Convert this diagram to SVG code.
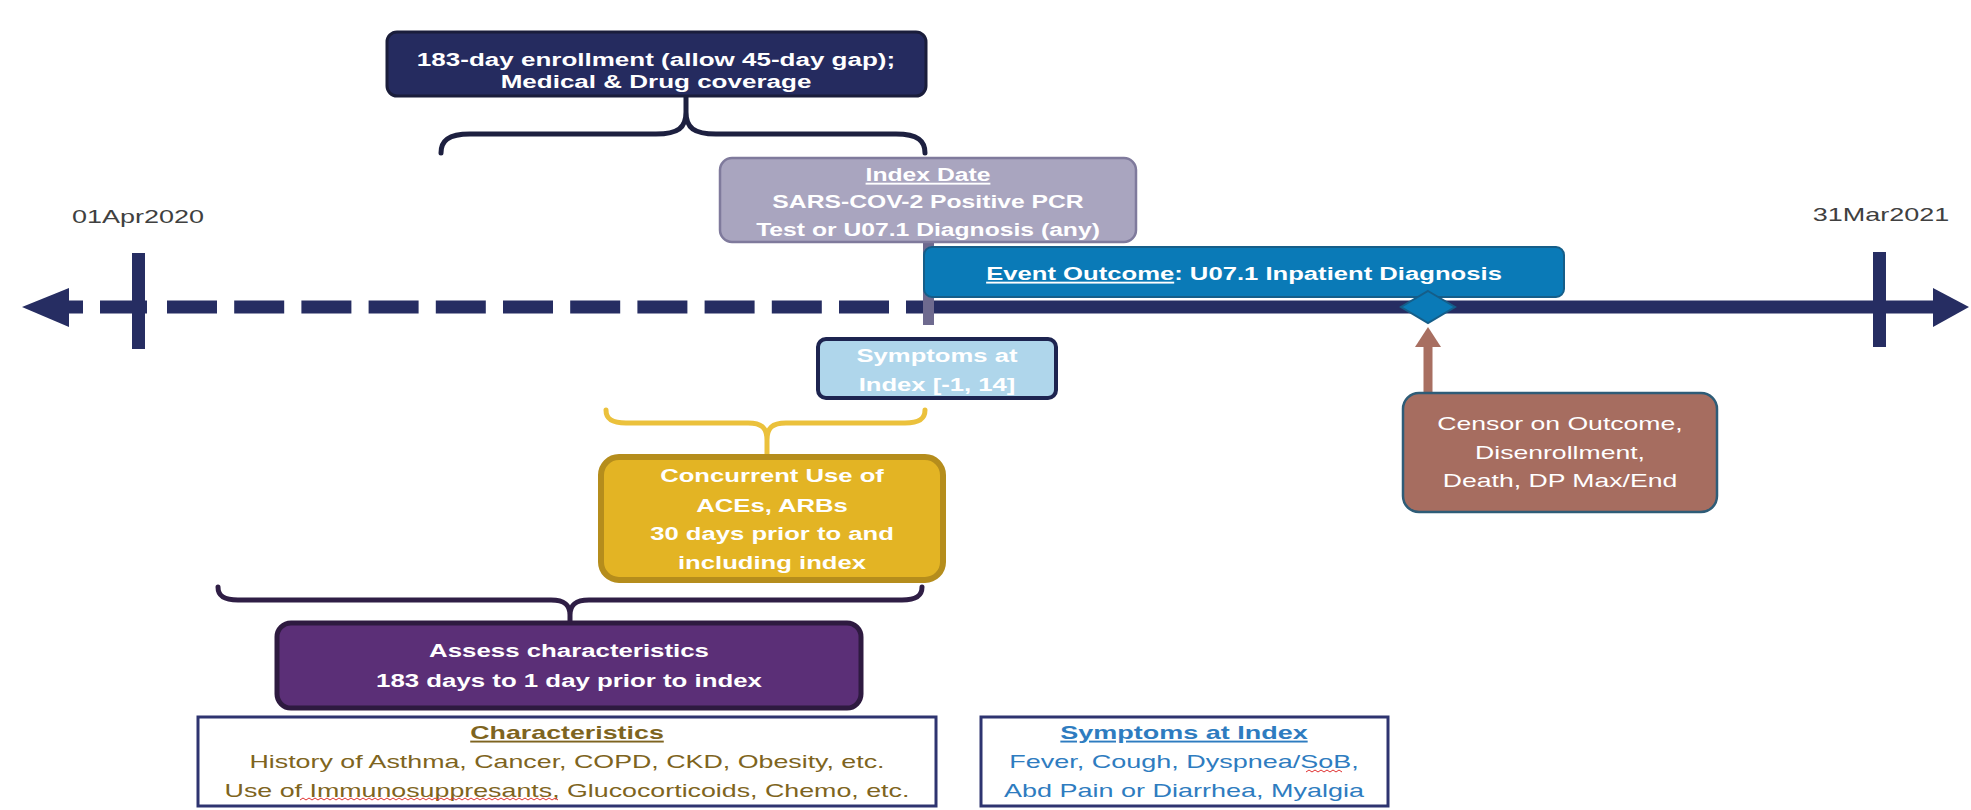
<svg xmlns="http://www.w3.org/2000/svg" width="1971" height="810" viewBox="0 0 1971 810">
<style>
text{font-family:"Liberation Sans",Arial,sans-serif;font-size:19px;text-anchor:middle}
.b{font-weight:bold}
.w{fill:#ffffff}
.date{fill:#404040;font-size:19px}
.ch{fill:#7E6420}
.sy{fill:#2E7CC0}
.u{text-decoration:underline}
.brace{fill:none;stroke-linecap:round;stroke-linejoin:round}
</style>
<rect width="1971" height="810" fill="#ffffff"/>

<g id="timeline">
  <rect x="69" y="300.5" width="14" height="13" fill="#262D62"/>
  <polygon points="22,307 69,288 69,327" fill="#262D62"/>
  <line x1="100" y1="307" x2="906" y2="307" stroke="#262D62" stroke-width="13" stroke-dasharray="47 20 50 17.2 50 17.2 50 17.2 50 17.2 50 17.2 50 17.2 50 17.2 50 17.2 50 17.2 50 17.2 50 17.2 50 17.2"/>
  <line x1="906" y1="307" x2="1935" y2="307" stroke="#262D62" stroke-width="13"/>
  <polygon points="1933,288 1969,307 1933,327" fill="#262D62"/>
  <rect x="132" y="253" width="13" height="96" fill="#262D62"/>
  <rect x="1873" y="252" width="13" height="95" fill="#262D62"/>
  <text class="date" transform="translate(138,223) scale(1.42,1)">01Apr2020</text>
  <text class="date" transform="translate(1881,221) scale(1.42,1)">31Mar2021</text>
</g>

<g id="connectors">
  <path class="brace" stroke="#1D2040" stroke-width="5" d="M441,153 C441,141 448,134 470,134 L656,134 C678,134 686,128 686,112 L686,96 M686,112 C686,128 694,134 716,134 L896,134 C918,134 925,141 925,153"/>
  <rect x="923" y="238" width="11" height="87" fill="#6E6A8F"/>
  <path class="brace" stroke="#EBC13C" stroke-width="5" d="M606,410 C606,419 612,423 626,423 L748,423 C762,423 767,428 767,440 L767,456 M767,440 C767,428 772,423 786,423 L905,423 C919,423 925,419 925,410"/>
  <path class="brace" stroke="#2F1E45" stroke-width="5" d="M218,587 C218,596 224,600 238,600 L551,600 C565,600 570,605 570,615 L570,626 M570,615 C570,605 575,600 589,600 L902,600 C916,600 922,596 922,587"/>
  <rect x="1423.5" y="345" width="9" height="49" fill="#A86F61"/>
  <polygon points="1428,327 1441,347 1415,347" fill="#A86F61"/>
</g>

<g id="enrollment">
  <rect x="387" y="32" width="539" height="64" rx="10" fill="#252B5F" stroke="#1A1D3B" stroke-width="3"/>
  <g transform="translate(656,0) scale(1.37,1)">
    <text class="b w" x="0" y="66">183-day enrollment (allow 45-day gap);</text>
    <text class="b w" x="0" y="88">Medical &amp; Drug coverage</text>
  </g>
</g>

<g id="index-date">
  <rect x="720" y="158" width="416" height="84" rx="12" fill="#A9A5BF" stroke="#7F7A9C" stroke-width="2.5"/>
  <g transform="translate(928,0) scale(1.3,1)">
    <text class="b w u" x="0" y="181">Index Date</text>
    <text class="b w" x="0" y="208">SARS-COV-2 Positive PCR</text>
    <text class="b w" x="0" y="236">Test or U07.1 Diagnosis (any)</text>
  </g>
</g>

<g id="event-outcome">
  <rect x="924" y="247" width="640" height="50" rx="8" fill="#0A7AB7" stroke="#155E89" stroke-width="2"/>
  <g transform="translate(1244,0) scale(1.35,1)">
    <text class="b w" x="0" y="280"><tspan class="u">Event Outcome</tspan>: U07.1 Inpatient Diagnosis</text>
  </g>
</g>

<g id="outcome-diamond">
  <polygon points="1428,291 1455,307 1428,323 1401,307" fill="#0A7AB7" stroke="#155E89" stroke-width="2"/>
</g>

<g id="censor">
  <rect x="1403" y="393" width="314" height="119" rx="16" fill="#A66D60" stroke="#2E5C77" stroke-width="2.5"/>
  <g transform="translate(1560,0) scale(1.4,1)">
    <text class="w" x="0" y="430">Censor on Outcome,</text>
    <text class="w" x="0" y="459">Disenrollment,</text>
    <text class="w" x="0" y="487">Death, DP Max/End</text>
  </g>
</g>

<g id="symptoms-window">
  <rect x="818" y="339" width="238" height="59" rx="8" fill="#AFD6EB" stroke="#1D2450" stroke-width="4"/>
  <g transform="translate(937,0) scale(1.35,1)">
    <text class="b w" x="0" y="362">Symptoms at</text>
    <text class="b w" x="0" y="391">Index [-1, 14]</text>
  </g>
</g>

<g id="concurrent">
  <rect x="601" y="457" width="342" height="123" rx="18" fill="#E3B424" stroke="#B58D1C" stroke-width="6"/>
  <g transform="translate(772,0) scale(1.35,1)">
    <text class="b w" x="0" y="482">Concurrent Use of</text>
    <text class="b w" x="0" y="512">ACEs, ARBs</text>
    <text class="b w" x="0" y="540">30 days prior to and</text>
    <text class="b w" x="0" y="569">including index</text>
  </g>
</g>

<g id="assess">
  <rect x="277" y="623" width="584" height="85" rx="14" fill="#5B2F77" stroke="#2E1A40" stroke-width="5"/>
  <g transform="translate(569,0) scale(1.36,1)">
    <text class="b w" x="0" y="657">Assess characteristics</text>
    <text class="b w" x="0" y="687">183 days to 1 day prior to index</text>
  </g>
</g>

<g id="characteristics">
  <rect x="198" y="717" width="738" height="89" fill="#ffffff" stroke="#2E3470" stroke-width="3"/>
  <g transform="translate(567,0) scale(1.41,1)">
    <text class="b ch u" x="0" y="739">Characteristics</text>
    <text class="ch" x="0" y="768">History of Asthma, Cancer, COPD, CKD, Obesity, etc.</text>
    <text class="ch" x="0" y="797">Use of Immunosuppresants, Glucocorticoids, Chemo, etc.</text>
  </g>
  <path d="M300,800 l3,-2 l3,2 l3,-2 l3,2 l3,-2 l3,2 l3,-2 l3,2 l3,-2 l3,2 l3,-2 l3,2 l3,-2 l3,2 l3,-2 l3,2 l3,-2 l3,2 l3,-2 l3,2 l3,-2 l3,2 l3,-2 l3,2 l3,-2 l3,2 l3,-2 l3,2 l3,-2 l3,2 l3,-2 l3,2 l3,-2 l3,2 l3,-2 l3,2 l3,-2 l3,2 l3,-2 l3,2 l3,-2 l3,2 l3,-2 l3,2 l3,-2 l3,2 l3,-2 l3,2 l3,-2 l3,2 l3,-2 l3,2 l3,-2 l3,2 l3,-2 l3,2 l3,-2 l3,2 l3,-2 l3,2 l3,-2 l3,2 l3,-2 l3,2 l3,-2 l3,2 l3,-2 l3,2 l3,-2 l3,2 l3,-2 l3,2 l3,-2 l3,2 l3,-2 l3,2 l3,-2 l3,2 l3,-2 l3,2 l3,-2 l3,2 l3,-2 l3,2 l3,-2 l3,2" fill="none" stroke="#E03030" stroke-width="1"/>
</g>

<g id="symptoms-list">
  <rect x="981" y="717" width="407" height="89" fill="#ffffff" stroke="#2E3470" stroke-width="3"/>
  <g transform="translate(1184,0) scale(1.42,1)">
    <text class="b sy u" x="0" y="739">Symptoms at Index</text>
    <text class="sy" x="0" y="768">Fever, Cough, Dyspnea/SoB,</text>
    <text class="sy" x="0" y="797">Abd Pain or Diarrhea, Myalgia</text>
  </g>
  <path d="M1306,772 l3,-2 l3,2 l3,-2 l3,2 l3,-2 l3,2 l3,-2 l3,2 l3,-2 l3,2 l3,-2 l3,2" fill="none" stroke="#E03030" stroke-width="1"/>
</g>
</svg>
